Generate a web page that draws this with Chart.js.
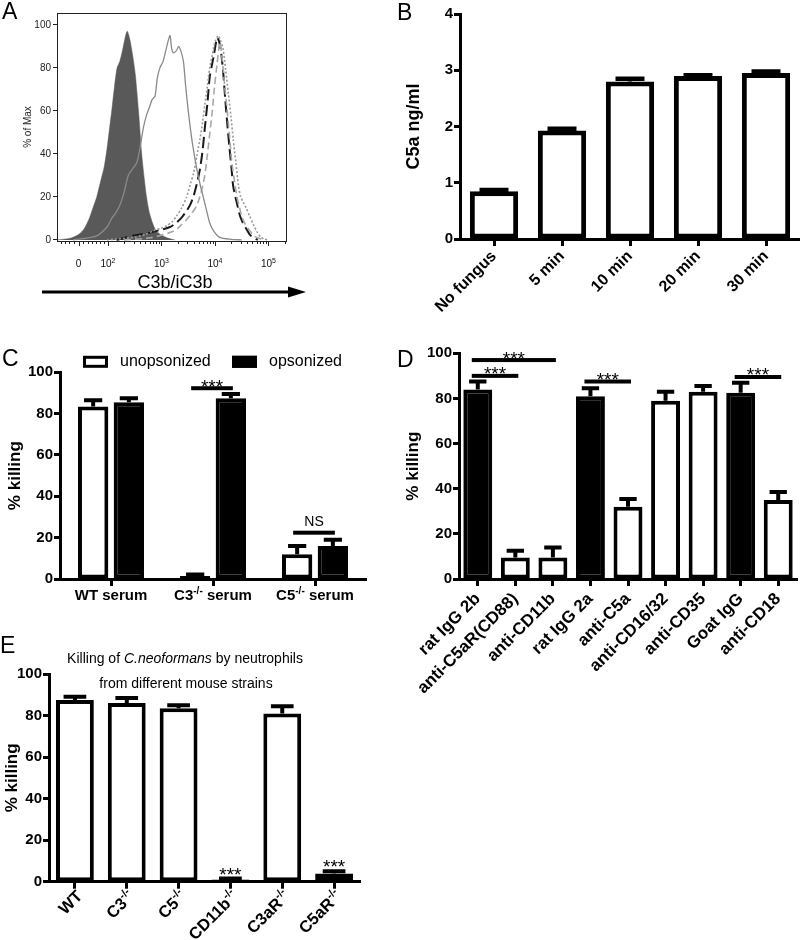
<!DOCTYPE html>
<html>
<head>
<meta charset="utf-8">
<script src="https://cdn.jsdelivr.net/npm/chart.js@4.4.0/dist/chart.umd.min.js"></script>
<style>
  html, body { margin: 0; padding: 0; background: #fff; }
  #wrap { position: relative; width: 800px; height: 940px; overflow: hidden; }
  canvas { position: absolute; }
</style>
</head>
<body>
<div id="wrap">
  <canvas id="cA" width="320" height="305" style="left:0;top:0"></canvas>
  <canvas id="cB" width="400" height="312" style="left:400px;top:0"></canvas>
  <canvas id="cC" width="400" height="310" style="left:0;top:310px"></canvas>
  <canvas id="cD" width="400" height="400" style="left:400px;top:310px"></canvas>
  <canvas id="cE" width="400" height="320" style="left:0;top:620px"></canvas>
  <canvas id="letters" width="800" height="940" style="left:0;top:0;pointer-events:none"></canvas>
</div>
<script>
const FONT = "'Liberation Sans', Arial, Helvetica, sans-serif";
Chart.defaults.font.family = FONT;
Chart.defaults.color = '#000';

// A: flow histograms, x = decade on the C3b/iC3b axis, y = % of max
const aControl = [[1.05,0],[1.3,0.8],[1.45,2.5],[1.55,5],[1.65,10],[1.72,15],[1.79,20],[1.87,28],[1.93,34],[1.98,42],[2.03,52],[2.07,60],[2.12,71],[2.17,80],[2.22,83],[2.27,88],[2.32,94],[2.36,97],[2.41,93],[2.46,86],[2.51,77],[2.57,60],[2.63,40],[2.68,28],[2.72,20],[2.78,12],[2.88,5],[2.98,2.5],[3.1,1],[3.25,0]];
const aUnops = [[1.35,0],[1.6,0.8],[1.8,2],[1.98,6],[2.07,10],[2.13,12],[2.22,16],[2.3,22],[2.38,30],[2.46,33],[2.54,36],[2.6,43],[2.66,52],[2.72,58],[2.78,62],[2.82,65],[2.88,67],[2.92,75],[2.97,80],[3.03,83],[3.08,88],[3.13,93],[3.16,95],[3.19,89],[3.22,87],[3.28,88],[3.32,90],[3.36,88],[3.41,83],[3.45,72],[3.5,60],[3.56,48],[3.61,40],[3.66,33],[3.72,26],[3.78,20],[3.84,14],[3.9,8],[3.98,4],[4.09,1.2],[4.3,0.3],[4.5,0]];
const aDotted = [[1.98,0],[2.47,1.2],[2.7,2.5],[2.85,4.3],[3.0,5.5],[3.1,6.6],[3.2,8.5],[3.28,11],[3.38,15],[3.47,20],[3.54,26],[3.6,31],[3.66,39],[3.72,47],[3.77,55],[3.81,63],[3.86,72],[3.9,80],[3.95,86],[4.0,92],[4.06,95],[4.1,93],[4.15,89],[4.2,79],[4.25,68],[4.3,57],[4.34,47],[4.39,36],[4.44,25],[4.48,20],[4.53,17.5],[4.58,15],[4.65,11],[4.72,7],[4.78,4],[4.85,1.5],[4.92,0.4],[5.0,0]];
const aBlackDash = [[2.16,0],[2.47,2],[2.72,3],[2.97,4.6],[3.16,6],[3.28,8],[3.38,10.5],[3.47,13.5],[3.54,16.5],[3.6,20.4],[3.66,26],[3.72,33],[3.77,42],[3.81,52],[3.86,64],[3.9,75.5],[3.94,81],[3.98,86],[4.04,94],[4.08,92],[4.12,86],[4.16,76],[4.19,66],[4.23,54],[4.27,43],[4.31,33],[4.34,25],[4.41,17],[4.47,11],[4.53,7.5],[4.59,5],[4.65,2.5],[4.71,1.2],[4.8,0]];
const aGrayDash = [[2.3,0],[2.8,1],[3.22,4],[3.35,6.5],[3.47,9.5],[3.57,12.5],[3.66,16],[3.74,22],[3.81,30],[3.86,40],[3.9,49],[3.95,60],[3.99,71],[4.04,82],[4.09,92],[4.13,85],[4.18,72],[4.22,62],[4.27,49],[4.31,37],[4.36,28],[4.41,20],[4.46,15],[4.5,11],[4.57,7],[4.63,5],[4.72,2],[4.8,1],[4.9,0]];
const aYTicks = [0, 20, 40, 60, 80, 100];
const aXTicks = [1.45, 2, 3, 4, 5];
const aXTickLabels = ['0', '10^{2}', '10^{3}', '10^{4}', '10^{5}'];

// B: C5a generation
const bTimes = ['No fungus', '5 min', '10 min', '20 min', '30 min'];
const bC5a = [0.85, 1.93, 2.8, 2.9, 2.95];
const bErr = [0.02, 0.03, 0.05, 0.01, 0.03];

// C: killing with different sera
const cSera = ['WT serum', 'C3^{-/-} serum', 'C5^{-/-} serum'];
const cUnops = [83.5, 1.5, 12];
const cUnopsErr = [3, 0.7, 4];
const cOps = [85.5, 87.5, 16];
const cOpsErr = [2, 2, 3];
const cSig = [[1, 92.3, '***'], [2, 22.4, 'NS']];

// D: blocking antibodies
const dTreat = ['rat IgG 2b', 'anti-C5aR(CD88)', 'anti-CD11b', 'rat IgG 2a', 'anti-C5a', 'anti-CD16/32', 'anti-CD35', 'Goat IgG', 'anti-CD18'];
const dKill = [84, 9.5, 9.5, 81, 32, 79, 83, 82.5, 35];
const dErr = [3.5, 3, 4.5, 3.5, 3.5, 4, 2.5, 4.5, 3.5];
const dIsotype = [true, false, false, true, false, false, false, true, false];
const dSig = [[0, 2, 97, '***'], [0, 1, 90, '***'], [3, 4, 87.5, '***'], [7, 8, 89.5, '***']];

// E: knockout neutrophils
const eStrains = ['WT', 'C3^{-/-}', 'C5^{-/-}', 'CD11b^{-/-}', 'C3aR^{-/-}', 'C5aR^{-/-}'];
const eKill = [87.5, 86, 83.5, 1, 81, 4];
const eErr = [1.5, 2.5, 1.5, 0.5, 3.5, 1];
const eSig = ['', '', '', '***', '', '***'];

// text with ^{superscript} parts
function richParts(s) {
  const parts = [], re = /\^\{([^}]*)\}/g;
  let last = 0, m;
  while ((m = re.exec(s))) {
    if (m.index > last) parts.push({ t: s.slice(last, m.index), sup: false });
    parts.push({ t: m[1], sup: true });
    last = re.lastIndex;
  }
  if (last < s.length) parts.push({ t: s.slice(last), sup: false });
  return parts;
}
function drawRich(ctx, s, x, y, size, weight, align) {
  const parts = richParts(s);
  const fN = `${weight} ${size}px ${FONT}`, fS = `${weight} ${Math.round(size * 0.65)}px ${FONT}`;
  let total = 0;
  parts.forEach(p => { ctx.font = p.sup ? fS : fN; p.w = ctx.measureText(p.t).width; total += p.w; });
  let cx = align === 'center' ? x - total / 2 : align === 'right' ? x - total : x;
  ctx.textAlign = 'left';
  ctx.textBaseline = 'alphabetic';
  parts.forEach(p => { ctx.font = p.sup ? fS : fN; ctx.fillText(p.t, cx, p.sup ? y - size * 0.42 : y); cx += p.w; });
}

function drawSig(ctx, x1, x2, y, text) {
  ctx.fillStyle = '#000';
  ctx.fillRect(x1, y - 2, x2 - x1, 4);
  ctx.textAlign = 'center';
  ctx.textBaseline = 'alphabetic';
  if (text === 'NS') {
    ctx.font = `14px ${FONT}`;
    ctx.fillText(text, (x1 + x2) / 2, y - 6.5);
  } else {
    ctx.font = `19px ${FONT}`;
    ctx.fillText(text, (x1 + x2) / 2, y + 4.5);
  }
}

const errorBars = {
  id: 'errorBars',
  afterDatasetsDraw(chart) {
    const ctx = chart.ctx, y = chart.scales.y;
    chart.data.datasets.forEach((ds, di) => {
      if (!ds.errors) return;
      chart.getDatasetMeta(di).data.forEach((bar, i) => {
        const top = y.getPixelForValue(ds.data[i] + ds.errors[i]);
        const w = bar.width * 0.6;
        ctx.save();
        ctx.strokeStyle = '#000';
        ctx.lineWidth = ds.errWidth || 4;
        ctx.beginPath();
        ctx.moveTo(bar.x, bar.y);
        ctx.lineTo(bar.x, top);
        ctx.moveTo(bar.x - w / 2, top);
        ctx.lineTo(bar.x + w / 2, top);
        ctx.stroke();
        ctx.restore();
      });
    });
  }
};

function barOptions(o) {
  return {
    responsive: false,
    animation: false,
    layout: { padding: { top: o.top, right: o.right, left: 0, bottom: 0 } },
    plugins: { legend: { display: false }, tooltip: { enabled: false } },
    scales: {
      x: {
        grid: { offset: false, drawOnChartArea: false, tickLength: 7, tickWidth: 3, tickColor: '#000' },
        border: { color: '#000', width: 3 },
        ticks: { display: o.xLabels, autoSkip: false, maxRotation: 45, minRotation: 45, padding: o.labelPad || 1, color: '#000', font: { size: o.labelSize || 16, weight: 'bold' } },
        afterFit(s) { s.height = o.xHeight; }
      },
      y: {
        min: 0, max: o.yMax,
        ticks: { stepSize: o.yStep, padding: 1, color: '#000', font: { size: o.tickSize, weight: 'bold' } },
        grid: { drawOnChartArea: false, tickLength: 6, tickWidth: 3, tickColor: '#000' },
        border: { color: '#000', width: 3 },
        title: { display: true, text: o.yTitle, color: '#000', font: { size: o.titleSize, weight: 'bold' }, padding: { top: o.titlePad, bottom: 0 } },
        afterFit(s) { s.width = o.yWidth; }
      }
    }
  };
}

// ---------- A ----------
const toXY = pts => pts.map(p => ({ x: p[0], y: p[1] }));
const aAxis = {
  id: 'aAxis',
  afterDraw(chart) {
    const { ctx, chartArea: a, scales: { x } } = chart;
    ctx.save();
    ctx.strokeStyle = '#222';
    ctx.lineWidth = 1;
    ctx.strokeRect(a.left + 0.5, a.top + 0.5, a.right - a.left - 1, a.bottom - a.top);
    ctx.beginPath();
    aXTicks.forEach(v => {
      const px = Math.round(x.getPixelForValue(v)) + 0.5;
      ctx.moveTo(px, a.bottom); ctx.lineTo(px, a.bottom + 5);
    });
    for (let d = 2; d <= 5; d++) {
      for (let k = 2; k <= 9; k++) {
        const v = d + Math.log10(k);
        if (v > x.max) continue;
        const px = Math.round(x.getPixelForValue(v)) + 0.5;
        ctx.moveTo(px, a.bottom); ctx.lineTo(px, a.bottom + 3);
      }
    }
    [1.12, 1.2, 1.28, 1.36, 1.54, 1.62, 1.7, 1.78, 1.86, 1.93].forEach(v => {
      const px = Math.round(x.getPixelForValue(v)) + 0.5;
      ctx.moveTo(px, a.bottom); ctx.lineTo(px, a.bottom + 3);
    });
    ctx.stroke();
    ctx.fillStyle = '#111';
    aXTicks.forEach((v, i) => drawRich(ctx, aXTickLabels[i], x.getPixelForValue(v), a.bottom + 26, 10, 'normal', 'center'));
    // axis title and arrow
    ctx.fillStyle = '#000';
    ctx.font = `18px ${FONT}`;
    ctx.textAlign = 'center';
    ctx.textBaseline = 'alphabetic';
    ctx.fillText('C3b/iC3b', 175, a.bottom + 47);
    const ay = a.bottom + 51;
    ctx.strokeStyle = '#000';
    ctx.lineWidth = 3;
    ctx.beginPath(); ctx.moveTo(42, ay); ctx.lineTo(292, ay); ctx.stroke();
    ctx.beginPath(); ctx.moveTo(306, ay); ctx.lineTo(288, ay - 5.5); ctx.lineTo(288, ay + 5.5); ctx.closePath(); ctx.fill();
    ctx.restore();
  }
};
new Chart(document.getElementById('cA'), {
  type: 'line',
  data: {
    datasets: [
      { data: toXY(aUnops), borderColor: '#8a8a8a', borderWidth: 1.3 },
      { data: toXY(aGrayDash), borderColor: '#a8a8a8', borderWidth: 1.6, borderDash: [7, 4] },
      { data: toXY(aDotted), borderColor: '#999', borderWidth: 1.6, borderDash: [2, 2] },
      { data: toXY(aBlackDash), borderColor: '#1a1a1a', borderWidth: 2, borderDash: [11, 5] },
      { data: toXY(aControl), borderColor: '#555', borderWidth: 0.5, backgroundColor: '#595959', fill: 'origin' }
    ]
  },
  options: {
    responsive: false,
    animation: false,
    elements: { point: { radius: 0 }, line: { tension: 0.25 } },
    layout: { padding: { top: 13, right: 33, left: 0, bottom: 0 } },
    plugins: { legend: { display: false }, tooltip: { enabled: false } },
    scales: {
      x: {
        type: 'linear', min: 1.047, max: 5.346,
        grid: { display: false }, border: { display: false }, ticks: { display: false },
        afterFit(s) { s.height = 64; }
      },
      y: {
        min: -0.5, max: 105.5,
        afterBuildTicks(s) { s.ticks = aYTicks.map(v => ({ value: v })); },
        grid: { drawOnChartArea: false, tickLength: 4, tickColor: '#222' },
        border: { display: false },
        ticks: { font: { size: 10 }, color: '#222', padding: 2 },
        title: { display: true, text: '% of Max', color: '#222', font: { size: 10 }, padding: { top: 22, bottom: 0 } },
        afterFit(s) { s.width = 57; }
      }
    }
  },
  plugins: [aAxis]
});

// ---------- B ----------
new Chart(document.getElementById('cB'), {
  type: 'bar',
  data: {
    labels: bTimes,
    datasets: [{ data: bC5a, errors: bErr, errWidth: 4.5, backgroundColor: '#fff', borderColor: '#000', borderWidth: 5, borderSkipped: false, barPercentage: 0.71, categoryPercentage: 1 }]
  },
  options: barOptions({ top: 14, right: 0, xHeight: 73, yWidth: 60, yMax: 4, yStep: 1, tickSize: 15, yTitle: 'C5a ng/ml', titleSize: 18, titlePad: 3, xLabels: true }),
  plugins: [errorBars]
});

// ---------- C ----------
const cExtras = {
  id: 'cExtras',
  afterDraw(chart) {
    const { ctx, chartArea: a, scales: { x } } = chart;
    ctx.save();
    ctx.fillStyle = '#000';
    cSera.forEach((s, i) => drawRich(ctx, s, x.getPixelForValue(i), a.bottom + 21, 15, 'bold', 'center'));
    const m0 = chart.getDatasetMeta(0).data, m1 = chart.getDatasetMeta(1).data;
    cSig.forEach(([g, v, t]) => drawSig(ctx, m0[g].x - 4, m1[g].x + 2, chart.scales.y.getPixelForValue(v), t));
    // legend
    const boxX = [a.left + 23, a.left + 172];
    const by = a.top - 16.5;
    chart.data.datasets.forEach((ds, i) => {
      ctx.fillStyle = ds.backgroundColor;
      ctx.fillRect(boxX[i], by, 25, 12);
      ctx.strokeStyle = '#000';
      ctx.lineWidth = 3;
      ctx.strokeRect(boxX[i] + 1.5, by + 1.5, 22, 9);
      ctx.fillStyle = '#000';
      ctx.font = `16px ${FONT}`;
      ctx.textAlign = 'left';
      ctx.textBaseline = 'middle';
      ctx.fillText(ds.label, boxX[i] + 37, by + 6);
    });
    ctx.restore();
  }
};
new Chart(document.getElementById('cC'), {
  type: 'bar',
  data: {
    labels: cSera,
    datasets: [
      { label: 'unopsonized', data: cUnops, errors: cUnopsErr, backgroundColor: '#fff', borderColor: '#000', borderWidth: 4, borderSkipped: false, barPercentage: 0.85, categoryPercentage: 0.7 },
      { label: 'opsonized', data: cOps, errors: cOpsErr, backgroundColor: '#000', borderColor: '#000', borderWidth: 4, borderSkipped: false, barPercentage: 0.85, categoryPercentage: 0.7 }
    ]
  },
  options: barOptions({ top: 62.3, right: 34, xHeight: 41, yWidth: 60, yMax: 100, yStep: 20, tickSize: 15, yTitle: '% killing', titleSize: 17, titlePad: 5, xLabels: false }),
  plugins: [errorBars, cExtras]
});

// ---------- D ----------
const dExtras = {
  id: 'dExtras',
  afterDraw(chart) {
    const { ctx } = chart;
    const m = chart.getDatasetMeta(0).data;
    ctx.save();
    dSig.forEach(([i, j, v, t]) => drawSig(ctx, m[i].x - 6, m[j].x + 3, chart.scales.y.getPixelForValue(v), t));
    ctx.restore();
  }
};
new Chart(document.getElementById('cD'), {
  type: 'bar',
  data: {
    labels: dTreat,
    datasets: [{
      data: dKill, errors: dErr,
      backgroundColor: dIsotype.map(f => f ? '#000' : '#fff'),
      borderColor: '#000', borderWidth: 4, borderSkipped: false, barPercentage: 0.77, categoryPercentage: 1
    }]
  },
  options: barOptions({ top: 43.3, right: 3, xHeight: 131, yWidth: 59, yMax: 100, yStep: 20, tickSize: 15, yTitle: '% killing', titleSize: 17, titlePad: 3, xLabels: true, labelSize: 17, labelPad: 3 }),
  plugins: [errorBars, dExtras]
});

// ---------- E ----------
const eExtras = {
  id: 'eExtras',
  afterDraw(chart) {
    const { ctx, chartArea: a, scales: { x, y } } = chart;
    ctx.save();
    ctx.fillStyle = '#000';
    eStrains.forEach((s, i) => {
      ctx.save();
      ctx.translate(x.getPixelForValue(i) + 5, a.bottom + 12);
      ctx.rotate(-Math.PI / 4);
      drawRich(ctx, s, 0, 5, 16.5, 'bold', 'right');
      ctx.restore();
    });
    eSig.forEach((t, i) => {
      if (!t) return;
      ctx.font = `19px ${FONT}`;
      ctx.textAlign = 'center';
      ctx.textBaseline = 'alphabetic';
      ctx.fillText(t, x.getPixelForValue(i), y.getPixelForValue(eKill[i] + eErr[i]) + 2);
    });
    // two-line title with italic species name
    const parts = [['Killing of ', 'normal'], ['C.neoformans', 'italic'], [' by neutrophils', 'normal']];
    let total = 0;
    parts.forEach(p => { ctx.font = `${p[1]} 14px ${FONT}`; p.w = ctx.measureText(p[0]).width; total += p.w; });
    let cx = 185 - total / 2;
    ctx.textAlign = 'left';
    parts.forEach(p => { ctx.font = `${p[1]} 14px ${FONT}`; ctx.fillText(p[0], cx, 43); cx += p.w; });
    ctx.font = `14px ${FONT}`;
    ctx.textAlign = 'center';
    ctx.fillText('from different mouse strains', 186, 68);
    ctx.restore();
  }
};
new Chart(document.getElementById('cE'), {
  type: 'bar',
  data: {
    labels: eStrains,
    datasets: [{ data: eKill, errors: eErr, backgroundColor: '#fff', borderColor: '#000', borderWidth: 4, borderSkipped: false, barPercentage: 0.73, categoryPercentage: 1 }]
  },
  options: barOptions({ top: 54, right: 40, xHeight: 58.3, yWidth: 49, yMax: 100, yStep: 20, tickSize: 15, yTitle: '% killing', titleSize: 17, titlePad: 2, xLabels: false }),
  plugins: [errorBars, eExtras]
});

// panel letters
const lc = document.getElementById('letters').getContext('2d');
lc.font = `23px ${FONT}`;
lc.fillStyle = '#000';
[['A', 2, 19], ['B', 397, 20], ['C', 2, 366], ['D', 397, 367], ['E', 0, 653]].forEach(([t, x, y]) => lc.fillText(t, x, y));
</script>
</body>
</html>
